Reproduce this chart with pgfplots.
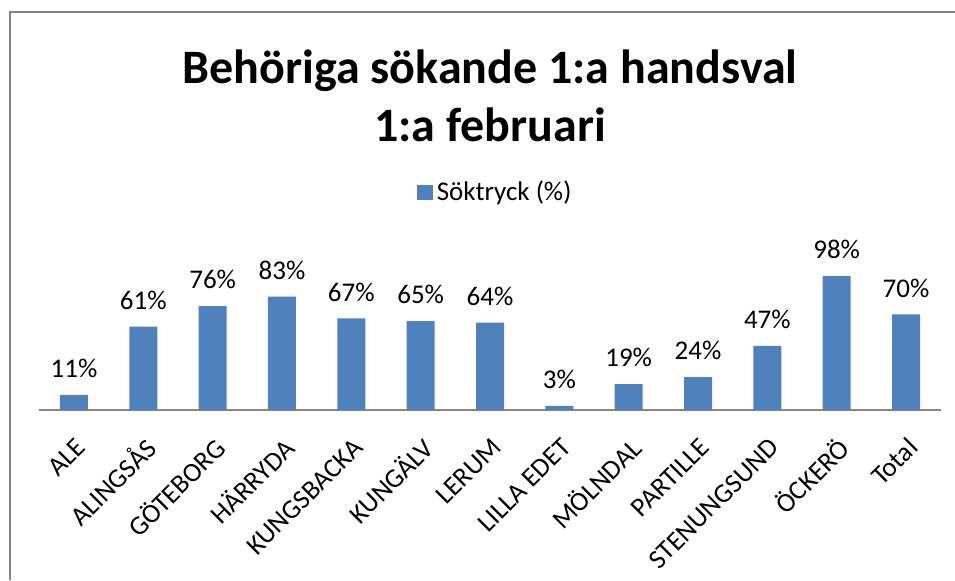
\documentclass[border=0pt]{standalone}
\usepackage{fontspec}
\setmainfont{Carlito}
\usepackage{pgfplots}
\pgfplotsset{compat=1.18}
\definecolor{barblue}{HTML}{4F81BD}
\definecolor{framegray}{HTML}{868686}

\begin{document}
\begin{tikzpicture}
% canvas: 1 px of the reference = 0.5pt
\useasboundingbox (0pt,0pt) rectangle (477.5pt,290pt);
\draw[framegray, line width=1.1pt] (5pt,0pt) -- (5pt,284pt) -- (477.5pt,284pt);

\node[align=center, font=\bfseries\fontsize{24}{29}\selectfont] at (245pt,242pt)
  {Behöriga sökande 1:a handsval\\1:a februari};

\begin{axis}[
    at={(19.65pt,85pt)},
    anchor=south west,
    scale only axis,
    width=450.7pt,
    height=68.3pt,
    xmin=-0.5, xmax=12.5,
    ymin=0, ymax=100,
    ybar,
    bar width=14pt,
    axis y line=none,
    axis x line*=bottom,
    x axis line style={-, framegray, line width=1.1pt},
    xtick={0,...,12},
    xticklabels={ALE, ALINGSÅS, GÖTEBORG, HÄRRYDA, KUNGSBACKA, KUNGÄLV, LERUM,
                 LILLA EDET, MÖLNDAL, PARTILLE, STENUNGSUND, ÖCKERÖ, Total},
    major tick length=0pt,
    % shifts act in the rotated frame
    x tick label style={rotate=45, anchor=east, font=\fontsize{13.5}{15}\selectfont,
                        xshift=-5.7pt, yshift=-14.1pt},
    /pgf/number format/assume math mode=true,
    nodes near coords={\pgfmathprintnumber{\pgfplotspointmeta}\%},
    nodes near coords style={font=\fontsize{13.5}{15}\selectfont, anchor=south, yshift=5pt},
    clip=false,
    legend style={at={(0.507,1.593)}, anchor=center, draw=none,
                  font=\fontsize{13.5}{15}\selectfont},
    legend image code/.code={\fill[barblue] (0pt,-3.9pt) rectangle (7.8pt,3.9pt);},
]
\addplot[fill=barblue, draw=none] coordinates {
    (0,11) (1,61) (2,76) (3,83) (4,67) (5,65) (6,64)
    (7,3) (8,19) (9,24) (10,47) (11,98) (12,70)
};
\addlegendentry{Söktryck (\%)}
\end{axis}
\end{tikzpicture}
\end{document}
